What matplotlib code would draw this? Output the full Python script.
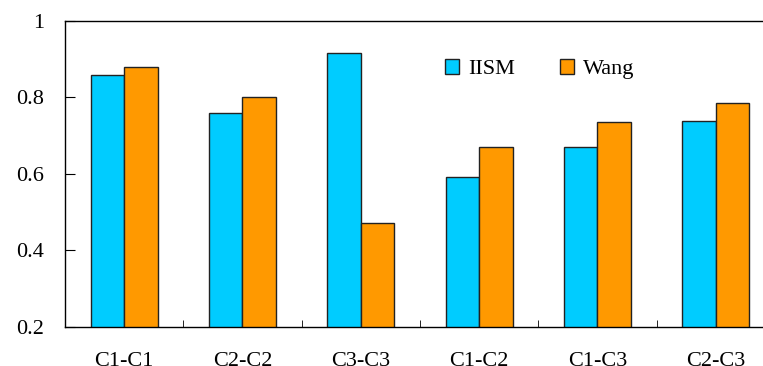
import numpy as np
import matplotlib.pyplot as plt
from matplotlib.patches import Patch

categories = ["C1-C1", "C2-C2", "C3-C3", "C1-C2", "C1-C3", "C2-C3"]
iism = [0.859, 0.759, 0.915, 0.591, 0.669, 0.737]
wang = [0.880, 0.802, 0.470, 0.670, 0.735, 0.784]
y_ticks = [0.2, 0.4, 0.6, 0.8, 1.0]
y_labels = ["0.2", "0.4", "0.6", "0.8", "1"]

BLUE = "#00CCFF"
ORANGE = "#FF9900"

plt.rcParams["font.family"] = ["Liberation Serif", "DejaVu Serif"]

fig = plt.figure(figsize=(7.63, 3.66), dpi=100)
ax = fig.add_axes([65 / 763, 39.5 / 366, 710 / 763, 305.5 / 366])

x = np.arange(len(categories))
w = 0.283

ax.bar(x - w / 2, iism, w, bottom=0, color=BLUE, edgecolor="#222222", linewidth=1.0)
ax.bar(x + w / 2, wang, w, bottom=0, color=ORANGE, edgecolor="#222222", linewidth=1.0)

ax.set_ylim(0.2, 1.0)
ax.set_xlim(-0.5, len(categories) - 0.5)

ax.set_yticks(y_ticks)
ax.set_yticklabels(y_labels, fontsize=16)
ax.set_xticks(x)
ax.set_xticklabels(categories, fontsize=16)
ax.tick_params(axis="x", length=0, pad=18)
ax.tick_params(axis="y", direction="in", length=7, pad=15)

# ticks between categories
ax.set_xticks(x[:-1] + 0.5, minor=True)
ax.tick_params(axis="x", which="minor", direction="in", length=5)

for s in ax.spines.values():
    s.set_color("black")
    s.set_linewidth(1.0)
ax.spines["right"].set_visible(False)

handles = [
    Patch(facecolor=BLUE, edgecolor="#222222", label="IISM"),
    Patch(facecolor=ORANGE, edgecolor="#222222", label="Wang"),
]
fig.legend(handles=handles, loc="center left", bbox_to_anchor=(425 / 763, 1 - 69 / 366),
           ncol=2, frameon=False, fontsize=16, handlelength=0.65, handleheight=0.65,
           handletextpad=0.4, columnspacing=2.0)

plt.savefig("out.png", dpi=100)
plt.close()
